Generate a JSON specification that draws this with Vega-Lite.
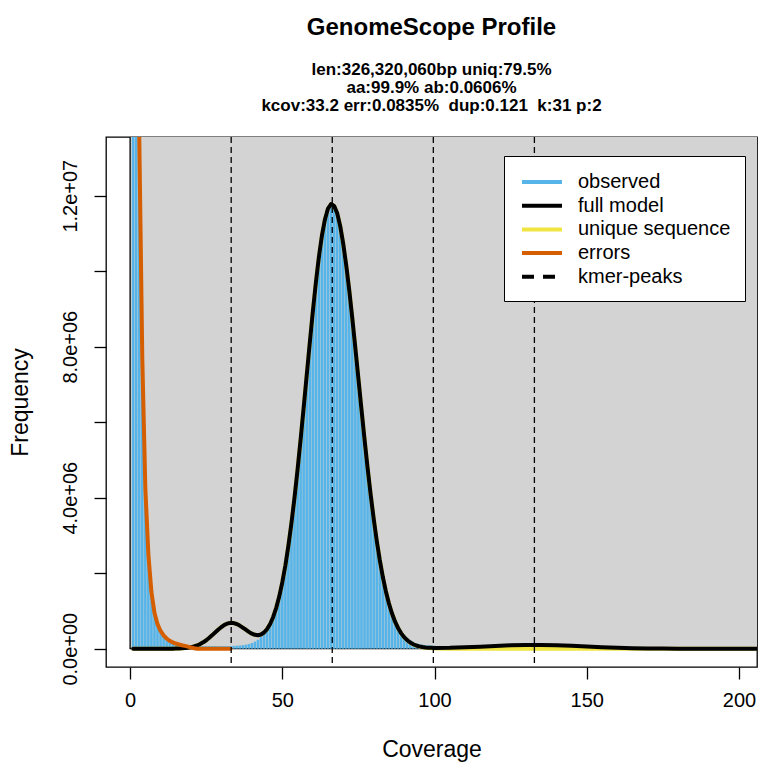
{
  "$schema": "https://vega.github.io/schema/vega-lite/v6.json",
  "width": 651,
  "height": 530,
  "autosize": {"type": "none"},
  "padding": {"left": 106, "top": 137, "right": 13, "bottom": 110},
  "background": "white",
  "title": {
    "text": "GenomeScope Profile",
    "subtitle": ["len:326,320,060bp uniq:79.5%", "aa:99.9% ab:0.0606%", "kcov:33.2 err:0.0835%\u00a0 dup:0.121\u00a0 k:31 p:2"],
    "anchor": "middle",
    "frame": "group",
    "font": "Liberation Sans",
    "fontSize": 24,
    "fontWeight": "bold",
    "color": "black",
    "subtitleFont": "Liberation Sans",
    "subtitleFontSize": 17,
    "subtitleFontWeight": "bold",
    "subtitleColor": "black",
    "subtitleLineHeight": 18,
    "subtitlePadding": 22,
    "offset": 23
  },
  "config": {
    "font": "Liberation Sans",
    "view": {"stroke": "black", "strokeWidth": 1.3},
    "axis": {
      "grid": false,
      "domain": false,
      "labelFont": "Liberation Sans",
      "labelFontSize": 20,
      "labelColor": "black",
      "tickColor": "black",
      "tickSize": 12,
      "tickWidth": 1.3,
      "titleFont": "Liberation Sans",
      "titleFontSize": 23,
      "titleFontWeight": "normal",
      "titleColor": "black",
      "labelOverlap": false,
      "labelFlush": false
    }
  },
  "datasets": {
    "observed": [
      {"coverage": 1, "count": 62000000}, {"coverage": 2, "count": 27000000}, {"coverage": 3, "count": 13600000},
      {"coverage": 4, "count": 7700000}, {"coverage": 5, "count": 4250000}, {"coverage": 6, "count": 2500000},
      {"coverage": 7, "count": 1500000}, {"coverage": 8, "count": 950000}, {"coverage": 9, "count": 650000},
      {"coverage": 10, "count": 470000}, {"coverage": 11, "count": 350000}, {"coverage": 12, "count": 270000},
      {"coverage": 13, "count": 210000}, {"coverage": 14, "count": 170000}, {"coverage": 15, "count": 140000},
      {"coverage": 16, "count": 120000}, {"coverage": 17, "count": 100000}, {"coverage": 18, "count": 90000},
      {"coverage": 19, "count": 80000}, {"coverage": 20, "count": 72000}, {"coverage": 21, "count": 70000},
      {"coverage": 22, "count": 71000}, {"coverage": 23, "count": 70000}, {"coverage": 24, "count": 69000},
      {"coverage": 25, "count": 70000}, {"coverage": 26, "count": 70000}, {"coverage": 27, "count": 71000},
      {"coverage": 28, "count": 70000}, {"coverage": 29, "count": 69000}, {"coverage": 30, "count": 70000},
      {"coverage": 31, "count": 71000}, {"coverage": 32, "count": 70000}, {"coverage": 33, "count": 72000},
      {"coverage": 34, "count": 75000}, {"coverage": 35, "count": 80000}, {"coverage": 36, "count": 86000},
      {"coverage": 37, "count": 94000}, {"coverage": 38, "count": 107000}, {"coverage": 39, "count": 125000},
      {"coverage": 40, "count": 151000}, {"coverage": 41, "count": 188000}, {"coverage": 42, "count": 238000},
      {"coverage": 43, "count": 307000}, {"coverage": 44, "count": 400000}, {"coverage": 45, "count": 521000},
      {"coverage": 46, "count": 680000}, {"coverage": 47, "count": 882000}, {"coverage": 48, "count": 1135000},
      {"coverage": 49, "count": 1446000}, {"coverage": 50, "count": 1761000}, {"coverage": 51, "count": 2204000},
      {"coverage": 52, "count": 2729000}, {"coverage": 53, "count": 3329000}, {"coverage": 54, "count": 4000000},
      {"coverage": 55, "count": 4742000}, {"coverage": 56, "count": 5537000}, {"coverage": 57, "count": 6375000},
      {"coverage": 58, "count": 7233000}, {"coverage": 59, "count": 8088000}, {"coverage": 60, "count": 8914000},
      {"coverage": 61, "count": 9683000}, {"coverage": 62, "count": 10370000}, {"coverage": 63, "count": 10940000},
      {"coverage": 64, "count": 11370000}, {"coverage": 65, "count": 11660000}, {"coverage": 66, "count": 11780000},
      {"coverage": 67, "count": 11730000}, {"coverage": 68, "count": 11540000}, {"coverage": 69, "count": 11200000},
      {"coverage": 70, "count": 10730000}, {"coverage": 71, "count": 10150000}, {"coverage": 72, "count": 9481000},
      {"coverage": 73, "count": 8741000}, {"coverage": 74, "count": 7954000}, {"coverage": 75, "count": 7145000},
      {"coverage": 76, "count": 6337000}, {"coverage": 77, "count": 5548000}, {"coverage": 78, "count": 4795000},
      {"coverage": 79, "count": 4091000}, {"coverage": 80, "count": 3446000}, {"coverage": 81, "count": 2865000},
      {"coverage": 82, "count": 2352000}, {"coverage": 83, "count": 1905000}, {"coverage": 84, "count": 1524000},
      {"coverage": 85, "count": 1203000}, {"coverage": 86, "count": 960000}, {"coverage": 87, "count": 760000},
      {"coverage": 88, "count": 600000}, {"coverage": 89, "count": 470000}, {"coverage": 90, "count": 370000},
      {"coverage": 91, "count": 290000}, {"coverage": 92, "count": 230000}, {"coverage": 93, "count": 184000},
      {"coverage": 94, "count": 150000}, {"coverage": 95, "count": 126000}, {"coverage": 96, "count": 108000},
      {"coverage": 97, "count": 96000}, {"coverage": 98, "count": 87000}, {"coverage": 99, "count": 81000},
      {"coverage": 100, "count": 77000}
    ],
    "fit": [
      {"coverage": 1, "full": 0, "unique": 0}, {"coverage": 2, "full": 0, "unique": 0}, {"coverage": 3, "full": 0, "unique": 0},
      {"coverage": 4, "full": 0, "unique": 0}, {"coverage": 5, "full": 0, "unique": 0}, {"coverage": 6, "full": 0, "unique": 0},
      {"coverage": 7, "full": 0, "unique": 0}, {"coverage": 8, "full": 0, "unique": 0}, {"coverage": 9, "full": 0, "unique": 0},
      {"coverage": 10, "full": 0, "unique": 0}, {"coverage": 11, "full": 0, "unique": 0}, {"coverage": 12, "full": 0, "unique": 0},
      {"coverage": 13, "full": 800, "unique": 800}, {"coverage": 14, "full": 1500, "unique": 1500},
      {"coverage": 15, "full": 2900, "unique": 2900}, {"coverage": 16, "full": 5100, "unique": 5100},
      {"coverage": 17, "full": 8900, "unique": 8900}, {"coverage": 18, "full": 14900, "unique": 14900},
      {"coverage": 19, "full": 24300, "unique": 24300}, {"coverage": 20, "full": 38200, "unique": 38200},
      {"coverage": 21, "full": 58100, "unique": 58100}, {"coverage": 22, "full": 85500, "unique": 85500},
      {"coverage": 23, "full": 121800, "unique": 121800}, {"coverage": 24, "full": 168000, "unique": 168000},
      {"coverage": 25, "full": 224000, "unique": 224000}, {"coverage": 26, "full": 289000, "unique": 289000},
      {"coverage": 27, "full": 360000, "unique": 360000}, {"coverage": 28, "full": 435000, "unique": 435000},
      {"coverage": 29, "full": 508000, "unique": 508000}, {"coverage": 30, "full": 575000, "unique": 575000},
      {"coverage": 31, "full": 630000, "unique": 630000}, {"coverage": 32, "full": 667000, "unique": 667000},
      {"coverage": 33, "full": 684000, "unique": 684000}, {"coverage": 34, "full": 679000, "unique": 679000},
      {"coverage": 35, "full": 655000, "unique": 655000}, {"coverage": 36, "full": 613000, "unique": 613000},
      {"coverage": 37, "full": 560000, "unique": 560000}, {"coverage": 38, "full": 502000, "unique": 502000},
      {"coverage": 39, "full": 445000, "unique": 445000}, {"coverage": 40, "full": 398000, "unique": 398000},
      {"coverage": 41, "full": 367000, "unique": 367000}, {"coverage": 42, "full": 357000, "unique": 357000},
      {"coverage": 43, "full": 376000, "unique": 376000}, {"coverage": 44, "full": 429000, "unique": 429000},
      {"coverage": 45, "full": 519000, "unique": 519000}, {"coverage": 46, "full": 655000, "unique": 655000},
      {"coverage": 47, "full": 841000, "unique": 841000}, {"coverage": 48, "full": 1083000, "unique": 1083000},
      {"coverage": 49, "full": 1387000, "unique": 1387000}, {"coverage": 50, "full": 1761000, "unique": 1761000},
      {"coverage": 51, "full": 2204000, "unique": 2204000}, {"coverage": 52, "full": 2729000, "unique": 2729000},
      {"coverage": 53, "full": 3329000, "unique": 3329000}, {"coverage": 54, "full": 4000000, "unique": 4000000},
      {"coverage": 55, "full": 4742000, "unique": 4742000}, {"coverage": 56, "full": 5537000, "unique": 5537000},
      {"coverage": 57, "full": 6375000, "unique": 6375000}, {"coverage": 58, "full": 7233000, "unique": 7233000},
      {"coverage": 59, "full": 8088000, "unique": 8088000}, {"coverage": 60, "full": 8914000, "unique": 8914000},
      {"coverage": 61, "full": 9683000, "unique": 9683000}, {"coverage": 62, "full": 10370000, "unique": 10370000},
      {"coverage": 63, "full": 10940000, "unique": 10940000}, {"coverage": 64, "full": 11370000, "unique": 11370000},
      {"coverage": 65, "full": 11660000, "unique": 11660000}, {"coverage": 66, "full": 11780000, "unique": 11780000},
      {"coverage": 67, "full": 11730000, "unique": 11730000}, {"coverage": 68, "full": 11540000, "unique": 11540000},
      {"coverage": 69, "full": 11200000, "unique": 11200000}, {"coverage": 70, "full": 10730000, "unique": 10730000},
      {"coverage": 71, "full": 10150000, "unique": 10150000}, {"coverage": 72, "full": 9481000, "unique": 9481000},
      {"coverage": 73, "full": 8741000, "unique": 8741000}, {"coverage": 74, "full": 7954000, "unique": 7954000},
      {"coverage": 75, "full": 7145000, "unique": 7145000}, {"coverage": 76, "full": 6337000, "unique": 6337000},
      {"coverage": 77, "full": 5548000, "unique": 5548000}, {"coverage": 78, "full": 4795000, "unique": 4795000},
      {"coverage": 79, "full": 4091000, "unique": 4091000}, {"coverage": 80, "full": 3446000, "unique": 3446000},
      {"coverage": 81, "full": 2865000, "unique": 2865000}, {"coverage": 82, "full": 2352000, "unique": 2352000},
      {"coverage": 83, "full": 1905000, "unique": 1905000}, {"coverage": 84, "full": 1524000, "unique": 1524000},
      {"coverage": 85, "full": 1203000, "unique": 1203000}, {"coverage": 86, "full": 937000, "unique": 937000},
      {"coverage": 87, "full": 722000, "unique": 722000}, {"coverage": 88, "full": 549000, "unique": 549000},
      {"coverage": 89, "full": 412000, "unique": 412000}, {"coverage": 90, "full": 307000, "unique": 304000},
      {"coverage": 91, "full": 225000, "unique": 222000}, {"coverage": 92, "full": 163000, "unique": 160000},
      {"coverage": 93, "full": 118000, "unique": 114000}, {"coverage": 94, "full": 84000, "unique": 80000},
      {"coverage": 95, "full": 62000, "unique": 56000}, {"coverage": 96, "full": 45000, "unique": 38000},
      {"coverage": 97, "full": 34000, "unique": 26000}, {"coverage": 98, "full": 26000, "unique": 17000},
      {"coverage": 99, "full": 22000, "unique": 11000}, {"coverage": 100, "full": 19600, "unique": 7400},
      {"coverage": 105, "full": 22900, "unique": 800}, {"coverage": 110, "full": 36200, "unique": 0},
      {"coverage": 115, "full": 53900, "unique": 0}, {"coverage": 120, "full": 72600, "unique": 0},
      {"coverage": 125, "full": 88800, "unique": 0}, {"coverage": 130, "full": 98500, "unique": 0},
      {"coverage": 135, "full": 99100, "unique": 0}, {"coverage": 140, "full": 90400, "unique": 0},
      {"coverage": 145, "full": 74800, "unique": 0}, {"coverage": 150, "full": 56100, "unique": 0},
      {"coverage": 155, "full": 38200, "unique": 0}, {"coverage": 160, "full": 23600, "unique": 0},
      {"coverage": 165, "full": 13200, "unique": 0}, {"coverage": 170, "full": 6700, "unique": 0},
      {"coverage": 175, "full": 3100, "unique": 0}, {"coverage": 180, "full": 1300, "unique": 0},
      {"coverage": 185, "full": 500, "unique": 0}, {"coverage": 190, "full": 200, "unique": 0},
      {"coverage": 195, "full": 100, "unique": 0}, {"coverage": 200, "full": 0, "unique": 0},
      {"coverage": 205, "full": 0, "unique": 0}, {"coverage": 210, "full": 0, "unique": 0}
    ],
    "errors": [
      {"coverage": 1, "count": 62000000}, {"coverage": 2, "count": 27000000}, {"coverage": 3, "count": 13600000},
      {"coverage": 4, "count": 7700000}, {"coverage": 5, "count": 4250000}, {"coverage": 6, "count": 2500000},
      {"coverage": 7, "count": 1500000}, {"coverage": 8, "count": 950000}, {"coverage": 9, "count": 650000},
      {"coverage": 10, "count": 470000}, {"coverage": 11, "count": 350000}, {"coverage": 12, "count": 270000},
      {"coverage": 13, "count": 209000}, {"coverage": 14, "count": 168000}, {"coverage": 15, "count": 137000},
      {"coverage": 16, "count": 115000}, {"coverage": 17, "count": 91000}, {"coverage": 18, "count": 75000},
      {"coverage": 19, "count": 56000}, {"coverage": 20, "count": 32000}, {"coverage": 21, "count": 12000},
      {"coverage": 22, "count": 0}, {"coverage": 23, "count": 0}, {"coverage": 24, "count": 0},
      {"coverage": 25, "count": 0}, {"coverage": 26, "count": 0}, {"coverage": 27, "count": 0},
      {"coverage": 28, "count": 0}, {"coverage": 29, "count": 0}, {"coverage": 30, "count": 0},
      {"coverage": 31, "count": 0}, {"coverage": 32, "count": 0}, {"coverage": 33, "count": 0}
    ],
    "peaks": [
      {"coverage": 33.2}, {"coverage": 66.4}, {"coverage": 99.6}, {"coverage": 132.8}
    ]
  },
  "layer": [
    {
      "data": {"values": [{}]},
      "mark": {"type": "rect", "fill": "#D3D3D3", "stroke": "black", "strokeWidth": 1.3, "clip": true},
      "encoding": {
        "x": {"datum": 0, "type": "quantitative", "scale": {"domain": [-7.92, 205.92], "nice": false, "zero": false},
              "axis": {"values": [0, 50, 100, 150, 200], "format": "d", "title": "Coverage", "labelPadding": 11, "titlePadding": 28}},
        "x2": {"datum": 218},
        "y": {"datum": 0, "type": "quantitative", "scale": {"domain": [-485000, 13555000], "nice": false, "zero": false},
              "axis": {"values": [0, 2000000, 4000000, 6000000, 8000000, 10000000, 12000000],
                       "labelExpr": "datum.value == 0 ? '0.0e+00' : datum.value == 4000000 ? '4.0e+06' : datum.value == 8000000 ? '8.0e+06' : datum.value == 12000000 ? '1.2e+07' : ''",
                       "labelAngle": -90, "labelAlign": "center", "labelBaseline": "bottom", "labelPadding": 14,
                       "title": "Frequency", "titlePadding": 28}},
        "y2": {"datum": 14300000}
      }
    },
    {
      "data": {"name": "observed"},
      "mark": {"type": "rule", "strokeWidth": 2.6, "clip": true},
      "encoding": {
        "x": {"field": "coverage", "type": "quantitative"},
        "y": {"field": "count", "type": "quantitative"},
        "y2": {"datum": 0},
        "color": {
          "datum": "observed",
          "scale": {"domain": ["observed", "full model", "unique sequence", "errors", "kmer-peaks"],
                    "range": ["#56B4E9", "#000000", "#F0E442", "#D55E00", "#000000"]},
          "legend": {
            "title": null, "orient": "none", "legendX": 398, "legendY": 19, "padding": 14,
            "fillColor": "white", "strokeColor": "black", "cornerRadius": 0,
            "symbolType": "M-2,0H2", "symbolSize": 400, "symbolStrokeWidth": 4, "symbolOffset": 12,
            "labelOffset": 24, "rowPadding": 1.7, "labelFont": "Liberation Sans", "labelFontSize": 20,
            "labelColor": "black", "labelLimit": 300,
            "encode": {"symbols": {"update": {"strokeDash": {"signal": "datum.value === 'kmer-peaks' ? [12, 9] : [1, 0]"}}}}
          }
        }
      }
    },
    {
      "data": {"name": "fit"},
      "mark": {"type": "line", "strokeWidth": 4, "strokeCap": "round", "strokeJoin": "round", "clip": true},
      "encoding": {
        "x": {"field": "coverage", "type": "quantitative"},
        "y": {"field": "unique", "type": "quantitative"},
        "color": {"datum": "unique sequence"}
      }
    },
    {
      "data": {"name": "fit"},
      "mark": {"type": "line", "strokeWidth": 4, "strokeCap": "round", "strokeJoin": "round", "clip": true},
      "encoding": {
        "x": {"field": "coverage", "type": "quantitative"},
        "y": {"field": "full", "type": "quantitative"},
        "color": {"datum": "full model"}
      }
    },
    {
      "data": {"name": "errors"},
      "mark": {"type": "line", "strokeWidth": 4, "strokeCap": "round", "strokeJoin": "round", "clip": true},
      "encoding": {
        "x": {"field": "coverage", "type": "quantitative"},
        "y": {"field": "count", "type": "quantitative"},
        "color": {"datum": "errors"}
      }
    },
    {
      "data": {"name": "peaks"},
      "mark": {"type": "rule", "strokeWidth": 1.3, "strokeDash": [6, 4], "clip": true},
      "encoding": {
        "x": {"field": "coverage", "type": "quantitative"},
        "color": {"datum": "kmer-peaks"}
      }
    }
  ]
}
